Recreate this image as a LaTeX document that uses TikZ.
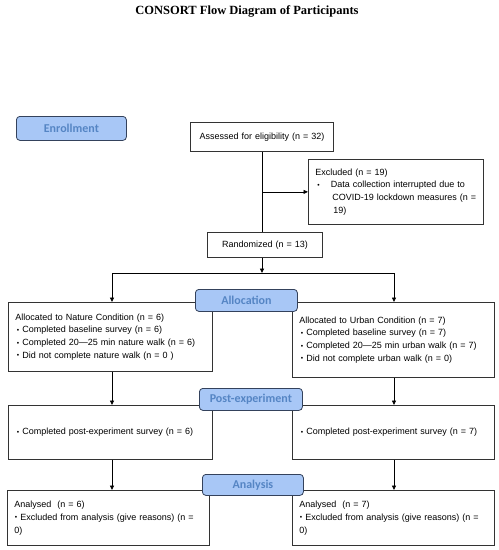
\documentclass[tikz,border=0pt]{standalone}
\usepackage{fontspec}
\usepackage{graphicx}
\setmainfont{Liberation Sans}
\newfontfamily\titlefont{Liberation Serif}
\newfontfamily\phasefont{Carlito}
\usetikzlibrary{arrows.meta}
\definecolor{phasefill}{HTML}{A8C7F6}
\definecolor{phaseedge}{HTML}{34425C}
\definecolor{phasetext}{HTML}{5585C4}
\newcommand{\bul}{\raisebox{0.6pt}{\scalebox{0.75}{\textbullet}}\ }
\tikzset{
  box/.style={draw=black!80, line width=0.8pt, fill=white, anchor=north west,
    inner xsep=7pt, inner ysep=0pt, align=left,
    font=\fontsize{9}{12.8}\selectfont},
  phase/.style={draw=phaseedge, line width=0.8pt, fill=phasefill, rounded corners=3.5pt,
    anchor=north west, inner sep=0pt, text=phasetext,
    font=\phasefont\bfseries\fontsize{12}{14}\selectfont},
  arr/.style={-{Triangle[length=4.5pt,width=4pt]}, line width=0.8pt},
  ln/.style={line width=0.8pt}
}
\begin{document}
\begin{tikzpicture}[x=1pt,y=-1pt]
\useasboundingbox[fill=white] (0,0) rectangle (499,550);
\node[font=\titlefont\bfseries\fontsize{12.5}{14}\selectfont] (title) at (247,11) {CONSORT Flow Diagram of Participants};

\node[box, align=center, text width=129pt, minimum height=29pt] (assessed) at (190,122) {Assessed for eligibility (n = 32)};
\node[box, text width=161pt, minimum height=65pt] (excluded) at (308,159) {Excluded (n = 19)\\
\hspace*{2pt}\bul\hspace*{8pt}Data collection interrupted due to\\
\hspace*{17pt}COVID-19 lockdown measures (n =\\
\hspace*{18pt}19)};
\node[box, align=center, text width=101pt, minimum height=25pt] (randomized) at (207,232) {Randomized (n = 13)};

\node[box, text width=190pt, minimum height=69pt] (nalloc) at (8,302) {Allocated to Nature Condition (n = 6)\\
\hspace*{1.5pt}\bul Completed baseline survey (n = 6)\\
\hspace*{1.5pt}\bul Completed 20—25 min nature walk (n = 6)\\
\hspace*{1.5pt}\bul Did not complete nature walk (n = 0 )};
\node[box, text width=188pt, minimum height=75pt] (ualloc) at (292,302) {Allocated to Urban Condition (n = 7)\\
\hspace*{1.5pt}\bul Completed baseline survey (n = 7)\\
\hspace*{1.5pt}\bul Completed 20—25 min urban walk (n = 7)\\
\hspace*{1.5pt}\bul Did not complete urban walk (n = 0)};

\node[box, text width=190pt, minimum height=54pt] (npost) at (8,405) {\hspace*{1.5pt}\bul Completed post-experiment survey (n = 6)};
\node[box, text width=188pt, minimum height=54pt] (upost) at (292,405) {\hspace*{1.5pt}\bul Completed post-experiment survey (n = 7)};

\node[box, text width=188pt, minimum height=55pt] (nanal) at (7,490) {Analysed\ \ (n = 6)\\
\hspace*{0.5pt}\bul Excluded from analysis (give reasons) (n =\\
0)};
\node[box, text width=188pt, minimum height=55pt] (uanal) at (292,490) {Analysed\ \ (n = 7)\\
\hspace*{0.5pt}\bul Excluded from analysis (give reasons) (n =\\
0)};

\coordinate (spine) at (262,273);
\coordinate (lc) at (112,273);
\coordinate (rc) at (394,273);
\draw[ln] (spine |- assessed.south) -- (spine |- randomized.north);
\draw[arr] (spine |- excluded.west) -- (excluded.west);
\draw[arr] (spine |- randomized.south) -- (spine);
\draw[ln] (lc) -- (rc);
\draw[arr] (lc) -- (lc |- nalloc.north);
\draw[arr] (rc) -- (rc |- ualloc.north);
\draw[arr] (lc |- nalloc.south) -- (lc |- npost.north);
\draw[arr] (rc |- ualloc.south) -- (rc |- upost.north);
\draw[arr] (lc |- npost.south) -- (lc |- nanal.north);
\draw[arr] (rc |- upost.south) -- (rc |- uanal.north);

\node[phase, minimum width=110pt, minimum height=24pt] (enroll) at (16,116) {Enrollment};
\node[phase, minimum width=102pt, minimum height=22pt] (alloc) at (195,289) {Allocation};
\node[phase, minimum width=103pt, minimum height=22pt] (postexp) at (199,388) {Post-experiment};
\node[phase, minimum width=101pt, minimum height=21pt] (analysis) at (202,474) {Analysis};
\end{tikzpicture}
\end{document}
